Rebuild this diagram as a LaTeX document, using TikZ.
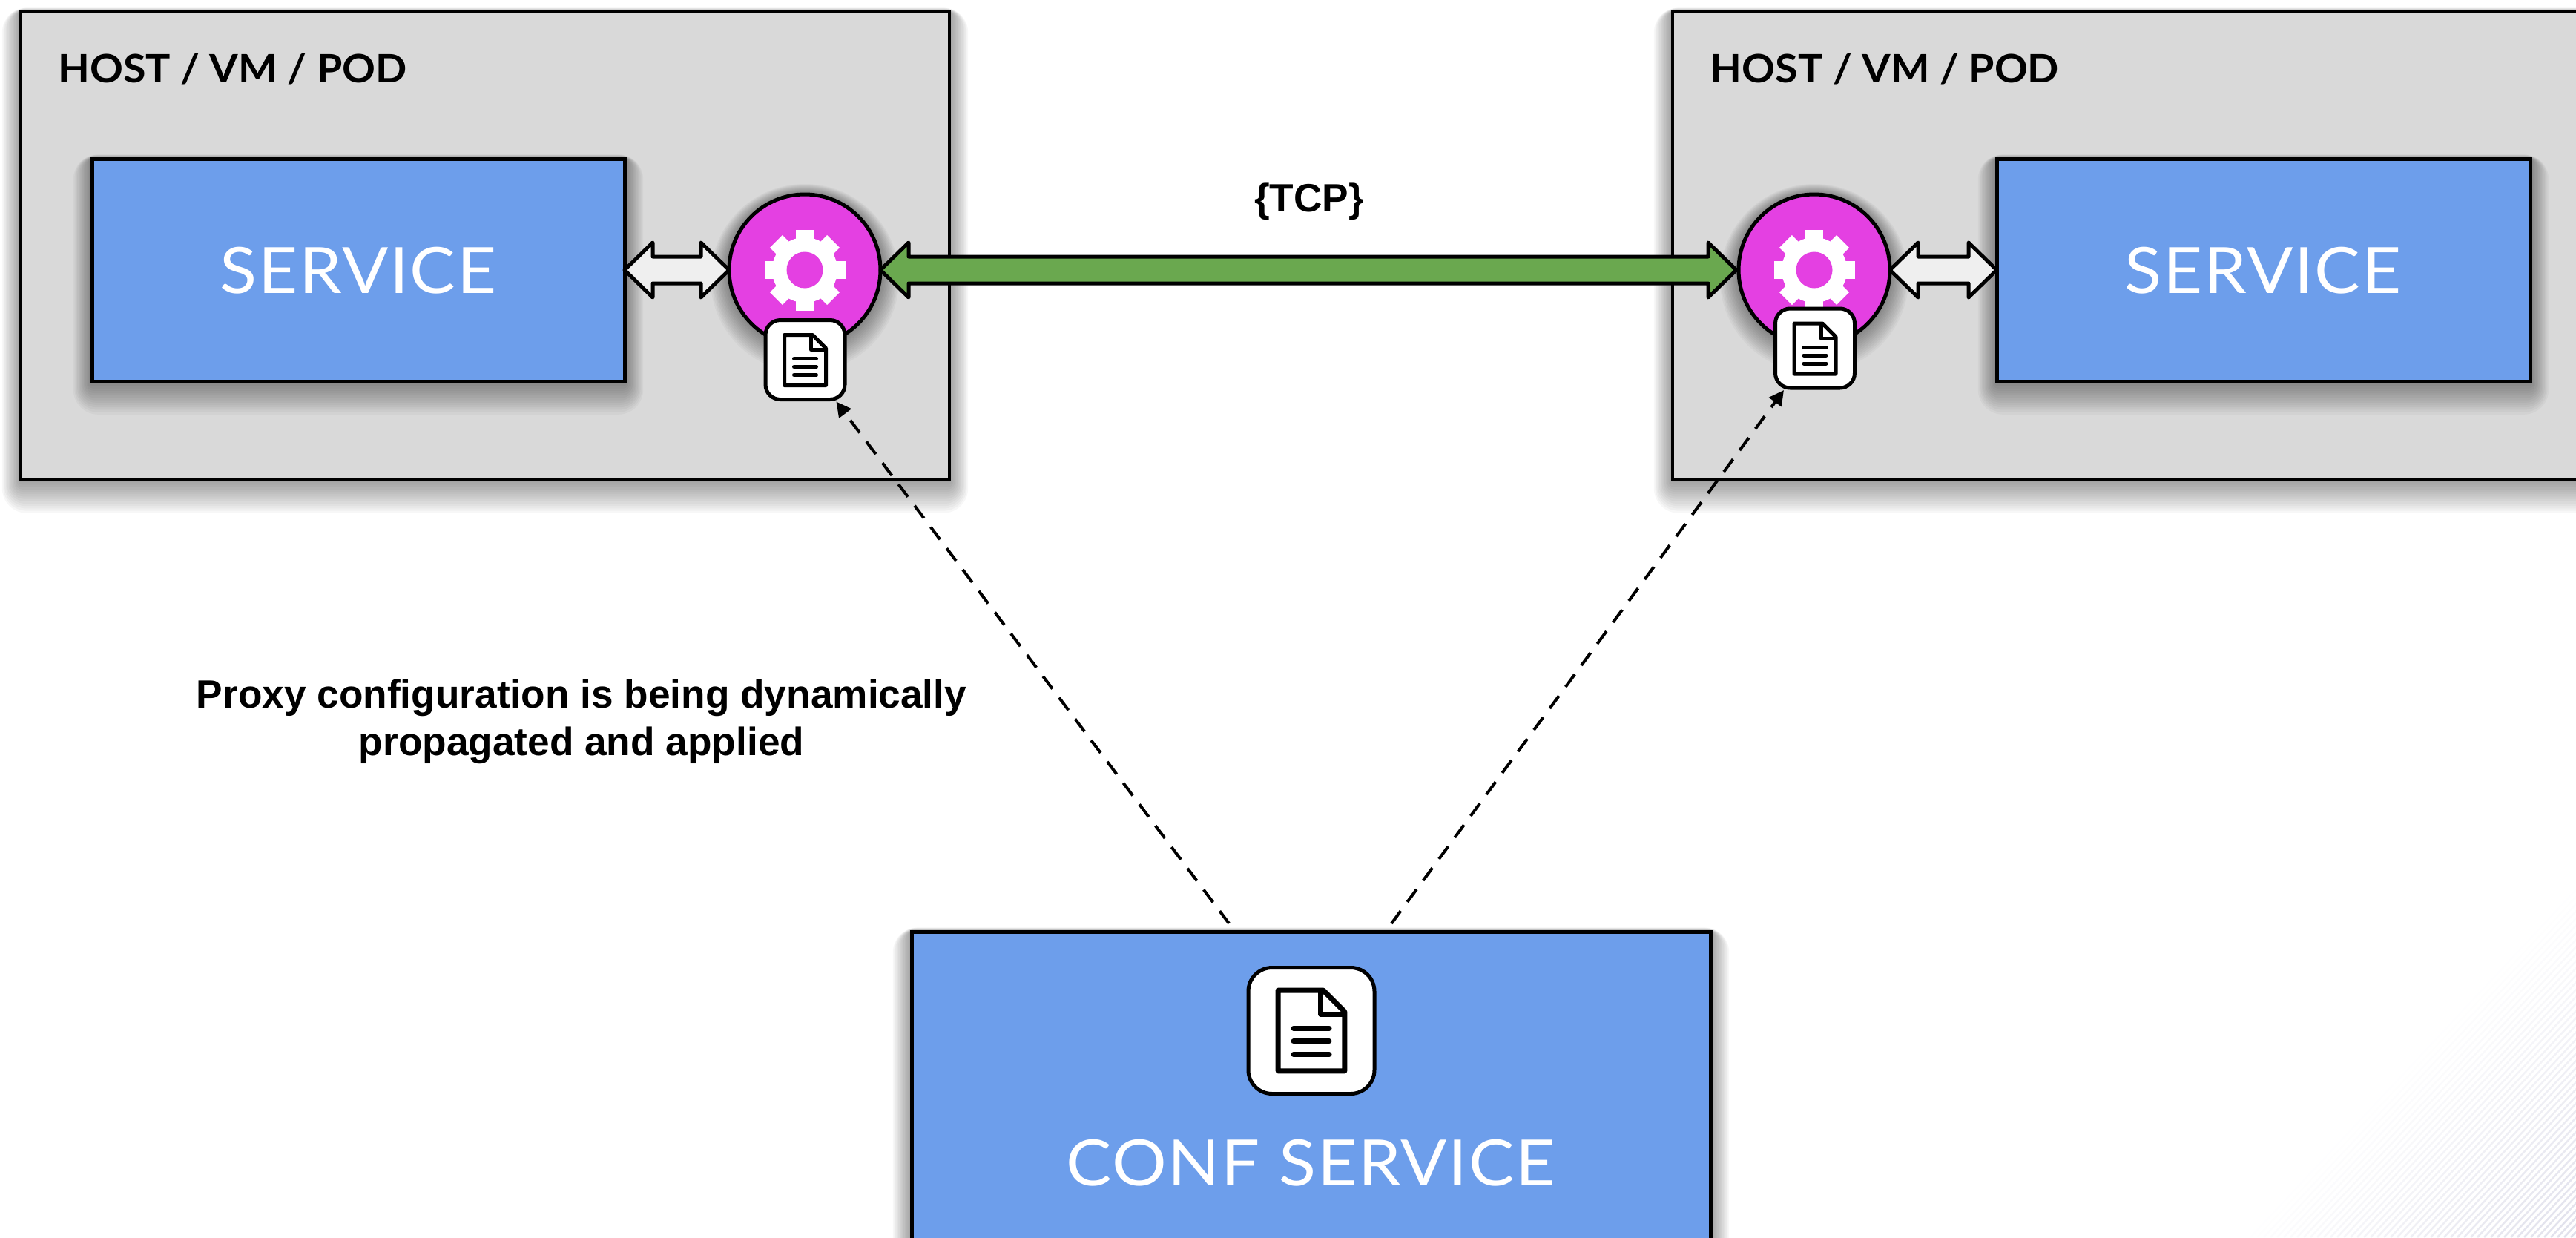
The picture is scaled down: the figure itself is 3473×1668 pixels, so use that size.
\documentclass[tikz,border=0pt]{standalone}
\usepackage{fontspec}
\setmainfont{Liberation Sans}
\newfontfamily\latosvc[FakeStretch=1.07,LetterSpace=2]{Lato}
\newfontfamily\latohost[FakeStretch=1.055]{Lato}
\usetikzlibrary{calc,arrows.meta}
\definecolor{boxblue}{HTML}{6D9EEB}
\definecolor{boxgrey}{HTML}{D9D9D9}
\definecolor{proxymag}{HTML}{E440E2}
\definecolor{fatgreen}{HTML}{6AA84F}
\definecolor{fatwhite}{HTML}{EFEFEF}
\definecolor{hatchc}{HTML}{D8D8E6}
\def\px{0.02cm}
\tikzset{
  greybox/.style={draw=black,fill=boxgrey,line width=4*\px,inner sep=0,outer sep=0,rectangle},
  bluebox/.style={draw=black,fill=boxblue,line width=5*\px,inner sep=0,outer sep=0,rectangle},
  proxy/.style={draw=black,fill=proxymag,line width=5*\px,circle,inner sep=0,outer sep=0,minimum size=204*\px},
  docsmall/.style={draw=black,fill=white,line width=5*\px,rectangle,rounded corners=20*\px,inner sep=0,outer sep=0,minimum size=107*\px},
  doclarge/.style={draw=black,fill=white,line width=5*\px,rectangle,rounded corners=32*\px,inner sep=0,outer sep=0,minimum size=170*\px},
  servicetext/.style={text=white,font=\latosvc\fontsize{49}{60}\selectfont,inner sep=0},
  hosttext/.style={text=black,font=\latohost\bfseries\fontsize{30}{36}\selectfont,inner sep=0},
  labeltext/.style={text=black,font=\bfseries\fontsize{30.3}{36.5}\selectfont,inner sep=0,align=center},
  fatarrow/.style={draw=black,line width=5*\px,line join=round},
  dasharrow/.style={draw=black,line width=4*\px,dash pattern=on 21*\px off 15*\px,-{Triangle[length=20*\px,width=20*\px]}},
  softshadow/.style={fill=black,fill opacity=0.03,draw=none},
}
% rectangle shadow: x1 y1 x2 y2
\newcommand{\rectshadow}[4]{%
  \foreach \i in {1,...,14}{
    \fill[softshadow,rounded corners=\i*2.4*\px] (#1-\i*1.8,#2-\i*0.4) rectangle (#3+\i*1.8,#4+\i*3.2);
  }}
\newcommand{\circshadow}[2]{%
  \foreach \i in {1,...,14}{
    \fill[softshadow] (#1,#2+\i*0.8) circle[radius=102+\i*1.8];
  }}
\newcommand{\gearat}[2]{%
  \begin{scope}[shift={(#1,#2)}]
    \fill[white] (0,0) circle[radius=44];
    \foreach \a in {0,45,...,315}{
      \fill[white,rotate=\a] (-12,-30) -- (-12,-54.5) -- (12,-54.5) -- (12,-30) -- cycle;
    }
    \fill[proxymag] (0,0) circle[radius=24.5];
  \end{scope}}
% centre x, centre y, scale, outline width, rule width
\newcommand{\docicon}[5]{%
  \begin{scope}[shift={(#1,#2)},scale=#3]
    \draw[line width=#4*\px,line join=round] (-28,-34) -- (10,-34) -- (28,-16) -- (28,34) -- (-28,34) -- cycle;
    \draw[line width=#4*\px,line join=round] (8,-34) -- (8,-14) -- (28,-14);
    \foreach \yy in {-2,9,20}{
      \draw[line width=#5*\px,line cap=round] (-15,\yy) -- (15,\yy);
    }
  \end{scope}}
\begin{document}
\begin{tikzpicture}[x=0.02cm,y=-0.02cm]
\useasboundingbox (0,0) rectangle (3473,1668);
\clip (0,0) rectangle (3473,1668);
% faint hatching, lower right corner
\foreach \k in {1,...,50}{
  \pgfmathsetmacro{\pct}{min(100,\k*1.6)}
  \draw[draw=hatchc!\pct!white,line width=2.5*\px] (3025+\k*9,1668) -- (3473+\k*9,1190);
}
% host boxes
\rectshadow{28}{16}{1280}{647}
\rectshadow{2255}{16}{3600}{647}
\node[greybox,minimum width=1252*\px,minimum height=631*\px] (hostA) at (654,331.5) {};
\node[greybox,minimum width=1345*\px,minimum height=631*\px] (hostB) at (2927.5,331.5) {};
\node[hosttext] (hostAt) at (313.5,93) {HOST / VM / POD};
\node[hosttext] (hostBt) at (2541,93) {HOST / VM / POD};
% services
\rectshadow{124}{214}{842}{514}
\rectshadow{2692}{214}{3411}{514}
\node[bluebox,minimum width=718*\px,minimum height=300*\px] (svcA) at (483,364) {};
\node[bluebox,minimum width=719*\px,minimum height=300*\px] (svcB) at (3051.5,364) {};
\node[servicetext] (svcAt) at (483,365) {SERVICE};
\node[servicetext] (svcBt) at (3051,365) {SERVICE};
% proxies
\circshadow{1085}{364}
\circshadow{2446}{364}
\node[proxy] (proxyA) at (1085,364) {};
\node[proxy] (proxyB) at (2446,364) {};
\gearat{1085}{364}
\gearat{2446}{364}
% fat arrows
\draw[fatarrow,fill=fatwhite] (svcA.east) -- ($(svcA.east)+(38,-37)$) -- ($(svcA.east)+(38,-18)$) -- ($(proxyA.west)+(-38,-18)$) -- ($(proxyA.west)+(-38,-37)$) -- (proxyA.west) -- ($(proxyA.west)+(-38,37)$) -- ($(proxyA.west)+(-38,18)$) -- ($(svcA.east)+(38,18)$) -- ($(svcA.east)+(38,37)$) -- cycle;
\draw[fatarrow,fill=fatwhite] (proxyB.east) -- ($(proxyB.east)+(38,-37)$) -- ($(proxyB.east)+(38,-18)$) -- ($(svcB.west)+(-38,-18)$) -- ($(svcB.west)+(-38,-37)$) -- (svcB.west) -- ($(svcB.west)+(-38,37)$) -- ($(svcB.west)+(-38,18)$) -- ($(proxyB.east)+(38,18)$) -- ($(proxyB.east)+(38,37)$) -- cycle;
\draw[fatarrow,fill=fatgreen] (proxyA.east) -- ($(proxyA.east)+(38,-37)$) -- ($(proxyA.east)+(38,-18)$) -- ($(proxyB.west)+(-41,-18)$) -- ($(proxyB.west)+(-41,-37)$) -- ($(proxyB.west)+(-3,0)$) -- ($(proxyB.west)+(-41,37)$) -- ($(proxyB.west)+(-41,18)$) -- ($(proxyA.east)+(38,18)$) -- ($(proxyA.east)+(38,37)$) -- cycle;
% doc badges
\node[docsmall] (docA) at (1085.5,485) {};
\node[docsmall] (docB) at (2447,469.5) {};
\docicon{1085.5}{485.5}{1}{5}{5}
\docicon{2447}{470}{1}{5}{5}
% labels
\node[labeltext] (tcp) at (1765,272) {\{TCP\}};
\node[labeltext] (prop) at (784,973) {Proxy configuration is being dynamically\\propagated and applied};
% conf service
\rectshadow{1229}{1256}{2306}{1800}
\node[bluebox,minimum width=1077*\px,minimum height=544*\px] (conf) at (1767.5,1528) {};
\node[doclarge] (docC) at (1768,1389.5) {};
\docicon{1768}{1389.5}{1.6}{7}{7}
\node[servicetext] (conft) at (1767,1568) {CONF SERVICE};
% dashed connectors
\coordinate (fromA) at (1657,1245);
\coordinate (fromB) at (1876,1245);
\draw[dasharrow] (fromA) -- ($(docA.south)+(42,3)$);
\draw[dasharrow] (fromB) -- ($(docB.south)+(-42,3)$);
\end{tikzpicture}
\end{document}
